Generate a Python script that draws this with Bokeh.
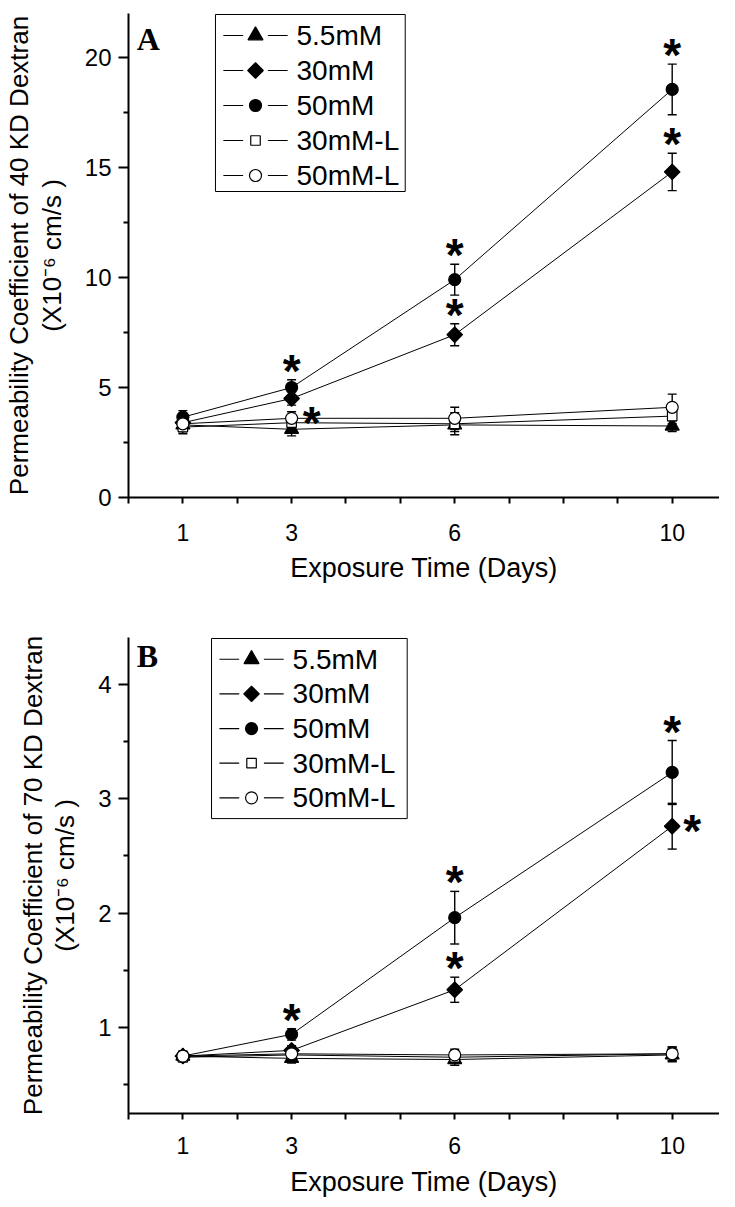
import math
from bokeh.plotting import figure
from bokeh.models import (ColumnDataSource, Whisker, TeeHead, LinearAxis, FixedTicker,
                          Label, Range1d)
from bokeh.layouts import column
from bokeh.embed import file_html
from bokeh.resources import INLINE
from bokeh.core.properties import value

# ---------------- data ----------------
days = [1, 3, 6, 10]
series = ["5.5mM", "30mM", "50mM", "30mM-L", "50mM-L"]

# Panel A: 40 KD Dextran (x10^-6 cm/s)
a_5_5mM = [3.3, 3.1, 3.3, 3.25]
a_30mM = [3.4, 4.5, 7.4, 14.8]
a_50mM = [3.65, 5.0, 9.9, 18.55]
a_30mM_L = [3.2, 3.4, 3.35, 3.7]
a_50mM_L = [3.35, 3.6, 3.6, 4.1]
a_5_5mM_err = [0.3, 0.3, 0.3, 0.25]
a_30mM_err = [0.3, 0.3, 0.5, 0.85]
a_50mM_err = [0.3, 0.35, 0.7, 1.15]
a_30mM_L_err = [0.3, 0.3, 0.5, 0.35]
a_50mM_L_err = [0.3, 0.3, 0.5, 0.6]

# Panel B: 70 KD Dextran (x10^-6 cm/s)
b_5_5mM = [0.75, 0.73, 0.72, 0.76]
b_30mM = [0.75, 0.80, 1.33, 2.76]
b_50mM = [0.75, 0.94, 1.96, 3.23]
b_30mM_L = [0.74, 0.76, 0.74, 0.77]
b_50mM_L = [0.75, 0.77, 0.76, 0.77]
b_5_5mM_err = [0.04, 0.04, 0.05, 0.06]
b_30mM_err = [0.04, 0.04, 0.11, 0.20]
b_50mM_err = [0.04, 0.05, 0.23, 0.28]
b_30mM_L_err = [0.04, 0.05, 0.05, 0.06]
b_50mM_L_err = [0.04, 0.04, 0.05, 0.06]

# significance marks: (series, day index)
a_star_above = [("50mM", 1), ("50mM", 2), ("50mM", 3), ("30mM", 2), ("30mM", 3)]
a_star_right = [("50mM-L", 1)]
b_star_above = [("50mM", 1), ("50mM", 2), ("50mM", 3), ("30mM", 2)]
b_star_right = [("30mM", 3)]

x_tick_labels = [1, 3, 6, 10]
x_ticks_minor = [0, 2, 4, 5, 7, 8, 9]
a_y_ticks = [0, 5, 10, 15, 20]
a_y_minor = [2.5, 7.5, 12.5, 17.5]
b_y_ticks = [1, 2, 3, 4]
b_y_minor = [0.5, 1.5, 2.5, 3.5]

# ---------------- styles ----------------
FONT = "Liberation Sans"
STY = {
    "5.5mM": dict(marker="triangle", size=14, fill="black", angle=0.0),
    "30mM": dict(marker="square", size=11, fill="black", angle=math.pi / 4),
    "50mM": dict(marker="circle", size=12, fill="black", angle=0.0),
    "30mM-L": dict(marker="square", size=9.5, fill="white", angle=0.0),
    "50mM-L": dict(marker="circle", size=12, fill="white", angle=0.0),
}
FRAME_W = 598
X0, X1 = 0, 10.87


def draw_legend(p, y0, y1, frame_h, left, top, width, height):
    ux = (X1 - X0) / FRAME_W
    uy = (y1 - y0) / frame_h

    def X(px):
        return X0 + px * ux

    def Y(py):
        return y1 - py * uy

    p.quad(left=[X(left)], right=[X(left + width)], top=[Y(top)], bottom=[Y(top + height)],
           fill_color="white", line_color="black", line_width=1)
    cy = [Y(top + 21 + 35 * i) for i in range(len(series))]
    n = len(series)
    p.segment(x0=[X(left + 8)] * n, x1=[X(left + 28)] * n, y0=cy, y1=cy,
              line_color="black", line_width=1.2)
    p.segment(x0=[X(left + 53)] * n, x1=[X(left + 73)] * n, y0=cy, y1=cy,
              line_color="black", line_width=1.2)
    for i, name in enumerate(series):
        s = STY[name]
        size = s["size"] + (1 if s["marker"] == "triangle" else 0)
        p.scatter([X(left + 40.5)], [cy[i]], marker=s["marker"], size=size, angle=s["angle"],
                  fill_color=s["fill"], line_color="black", line_width=1.2)
    p.text(x=[X(left + 82)] * n, y=cy, text=series, text_font=value(FONT),
           text_font_size="28px", text_align="left", text_baseline="middle",
           text_color="black")


def make_panel(means, errs, y0, y1, yt, ym, line1, line2, letter, letter_y,
               stars_above, stars_right, height, top, bottom, legend_box,
               lab_standoff, title_standoff):
    frame_h = height - top - bottom
    upp = (y1 - y0) / frame_h
    p = figure(width=719, height=height, x_range=Range1d(X0, X1), y_range=Range1d(y0, y1),
               output_backend="svg", toolbar_location=None,
               x_axis_type=None, y_axis_type=None,
               min_border_left=121, min_border_right=0,
               min_border_top=top, min_border_bottom=bottom)
    p.outline_line_color = None
    p.background_fill_color = "white"
    p.border_fill_color = "white"

    # y axes
    yax = LinearAxis(ticker=FixedTicker(ticks=yt, minor_ticks=ym), axis_label=line2)
    yax.axis_line_width = 2
    yax.major_tick_out = 10
    yax.major_tick_in = 0
    yax.minor_tick_out = 5
    yax.minor_tick_in = 0
    yax.major_tick_line_width = 2
    yax.minor_tick_line_width = 2
    yax.major_label_text_font = FONT
    yax.major_label_text_font_size = "24px"
    yax.major_label_text_color = "black"
    yax.major_label_standoff = 7
    yax.axis_label_text_font = FONT
    yax.axis_label_text_font_size = "26px"
    yax.axis_label_text_font_style = "normal"
    yax.axis_label_text_color = "black"
    yax.axis_label_standoff = 15
    p.add_layout(yax, "left")

    yax2 = LinearAxis(ticker=FixedTicker(ticks=[], minor_ticks=[]), axis_label=line1)
    yax2.axis_line_color = None
    yax2.major_tick_out = 0
    yax2.major_tick_in = 0
    yax2.minor_tick_out = 0
    yax2.minor_tick_in = 0
    yax2.major_label_standoff = 0
    yax2.axis_label_standoff = 0
    yax2.axis_label_text_font = FONT
    yax2.axis_label_text_font_size = "26px"
    yax2.axis_label_text_font_style = "normal"
    yax2.axis_label_text_color = "black"
    p.add_layout(yax2, "left")

    # x axis
    xax = LinearAxis(ticker=FixedTicker(ticks=x_tick_labels, minor_ticks=x_ticks_minor),
                     axis_label="Exposure Time (Days)")
    xax.axis_line_width = 2
    xax.major_tick_out = 6
    xax.major_tick_in = 0
    xax.minor_tick_out = 6
    xax.minor_tick_in = 0
    xax.major_tick_line_width = 2
    xax.minor_tick_line_width = 2
    xax.major_label_text_font = FONT
    xax.major_label_text_font_size = "23px"
    xax.major_label_text_color = "black"
    xax.major_label_standoff = lab_standoff
    xax.axis_label_text_font = FONT
    xax.axis_label_text_font_size = "27px"
    xax.axis_label_text_font_style = "normal"
    xax.axis_label_text_color = "black"
    xax.axis_label_standoff = title_standoff
    p.add_layout(xax, "below")

    # error bars
    for name in series:
        m, e = means[name], errs[name]
        src = ColumnDataSource(dict(x=days, lo=[a - b for a, b in zip(m, e)],
                                    hi=[a + b for a, b in zip(m, e)]))
        w = Whisker(base="x", lower="lo", upper="hi", source=src, dimension="height",
                    line_color="black", line_width=1.4, level="underlay",
                    upper_head=TeeHead(size=9, line_color="black", line_width=1.4),
                    lower_head=TeeHead(size=9, line_color="black", line_width=1.4))
        p.add_layout(w)

    # lines
    for name in series:
        p.line(days, means[name], line_color="black", line_width=1)
    # markers
    for name in series:
        s = STY[name]
        p.scatter(days, means[name], marker=s["marker"], size=s["size"],
                  angle=s["angle"], fill_color=s["fill"], line_color="black",
                  line_width=1.2)

    # asterisks
    fs = 46
    sx, sy, so = [], [], []
    for name, i in stars_above:
        yc = means[name][i] + errs[name][i] + 14 * upp
        sx.append(days[i]); sy.append(yc - 5 * upp); so.append(0)
    for name, i in stars_right:
        yc = means[name][i]
        sx.append(days[i]); sy.append(yc - 5 * upp); so.append(20)
    ssrc = ColumnDataSource(dict(x=sx, y=sy, xo=so, t=["*"] * len(sx)))
    p.text(x="x", y="y", text="t", x_offset="xo", source=ssrc, text_font=value(FONT),
           text_font_style="bold", text_font_size=f"{fs}px", text_align="center",
           text_baseline="alphabetic", text_color="black")

    # panel letter
    p.add_layout(Label(x=0.15, y=letter_y, text=letter, text_font="Liberation Serif",
                       text_font_style="bold", text_font_size="32px", text_color="black",
                       text_baseline="alphabetic"))

    draw_legend(p, y0, y1, frame_h, *legend_box)
    return p


a_means = {"5.5mM": a_5_5mM, "30mM": a_30mM, "50mM": a_50mM, "30mM-L": a_30mM_L, "50mM-L": a_50mM_L}
a_errs = {"5.5mM": a_5_5mM_err, "30mM": a_30mM_err, "50mM": a_50mM_err,
          "30mM-L": a_30mM_L_err, "50mM-L": a_50mM_L_err}
b_means = {"5.5mM": b_5_5mM, "30mM": b_30mM, "50mM": b_50mM, "30mM-L": b_30mM_L, "50mM-L": b_50mM_L}
b_errs = {"5.5mM": b_5_5mM_err, "30mM": b_30mM_err, "50mM": b_50mM_err,
          "30mM-L": b_30mM_L_err, "50mM-L": b_50mM_L_err}

pA = make_panel(a_means, a_errs, 0, 22.0, a_y_ticks, a_y_minor,
                "Permeability Coefficient of 40 KD Dextran", "(X10\u207b\u2076 cm/s )",
                "A", 20.86, a_star_above, a_star_right,
                height=608, top=13, bottom=111, legend_box=(88, 1, 192, 177),
                lab_standoff=20, title_standoff=9)
pB = make_panel(b_means, b_errs, 0.248, 4.41, b_y_ticks, b_y_minor,
                "Permeability Coefficient of 70 KD Dextran", "(X10\u207b\u2076 cm/s )",
                "B", 4.25, b_star_above, b_star_right,
                height=591, top=29, bottom=81, legend_box=(84, 1, 198, 182),
                lab_standoff=17, title_standoff=10)

layout = column(pA, pB, spacing=0)
open("out.html", "w").write(file_html(layout, INLINE))
